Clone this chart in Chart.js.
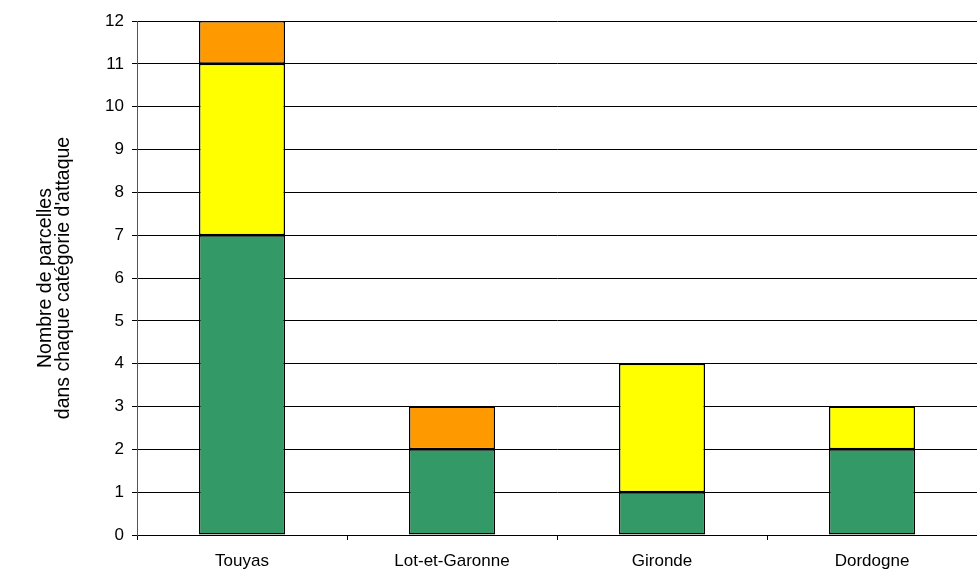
<!DOCTYPE html>
<html lang="fr">
<head>
  <meta charset="UTF-8" />
  <title>Parcelles par catégorie d'attaque</title>
  <script src="https://cdn.jsdelivr.net/npm/chart.js"></script>
  <style>
    html, body { margin: 0; padding: 0; background: #fff; }
    #wrap { width: 977px; height: 569px; }
  </style>
</head>
<body>
  <div id="wrap"><canvas id="chart" width="977" height="569"></canvas></div>
  <script>
    // Données
    const categories = ['Touyas', 'Lot-et-Garonne', 'Gironde', 'Dordogne'];
    const vert = [7, 2, 1, 2];
    const jaune = [4, 0, 3, 1];
    const orange = [1, 1, 0, 0];
    const yTicks = [0, 1, 2, 3, 4, 5, 6, 7, 8, 9, 10, 11, 12];

    const font = { family: "'Liberation Sans', Arial, sans-serif", size: 17 };

    function serie(data, color) {
      return {
        data: data,
        backgroundColor: color,
        borderColor: '#000',
        borderWidth: 1.5,
        borderSkipped: false,
        categoryPercentage: 1,
        barPercentage: 0.41
      };
    }

    new Chart(document.getElementById('chart'), {
      type: 'bar',
      data: {
        labels: categories,
        datasets: [serie(vert, '#339966'), serie(jaune, '#ffff00'), serie(orange, '#ff9900')]
      },
      options: {
        responsive: false,
        animation: false,
        layout: { padding: { top: 21, right: 0, bottom: 0, left: 36 } },
        plugins: { legend: { display: false }, tooltip: { enabled: false } },
        scales: {
          x: {
            stacked: true,
            offset: true,
            afterFit: s => { s.height = 34; },
            grid: { offset: true, drawOnChartArea: false, color: '#000', tickLength: 5 },
            border: { color: '#000', width: 1 },
            ticks: { color: '#000', font: font, padding: 11 }
          },
          y: {
            stacked: true,
            min: 0,
            max: 12,
            afterBuildTicks: s => { s.ticks = yTicks.map(v => ({ value: v })); },
            afterFit: s => { s.width = 101; },
            grid: { color: '#000', tickLength: 5 },
            border: { color: '#555', width: 1 },
            ticks: { color: '#000', font: font, padding: 8 },
            title: {
              display: true,
              text: ['Nombre de parcelles', "dans chaque catégorie d'attaque"],
              color: '#000',
              font: { family: font.family, size: 19.5, lineHeight: 0.95 },
              padding: 0
            }
          }
        }
      }
    });
  </script>
</body>
</html>
